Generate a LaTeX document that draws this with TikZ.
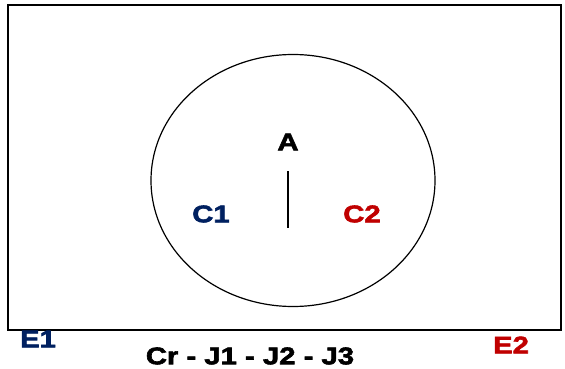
\documentclass[tikz,border=0pt]{standalone}
\usepackage{fontspec}
\setmainfont{Liberation Sans}[BoldFeatures={FakeStretch=1.22,FakeBold=2.5}]
\definecolor{navy}{HTML}{002060}
\definecolor{darkred}{HTML}{C00000}
\tikzset{
  lbl/.style={inner sep=0pt, font=\fontsize{24}{27}\selectfont\bfseries},
  frame/.style={draw=black, line width=1.5pt},
  outline/.style={draw=black, line width=1.2pt}
}
\begin{document}
\begin{tikzpicture}[x=1pt,y=-1pt]
\useasboundingbox (0,0) rectangle (565,369);
\draw[frame] (8,5) rectangle (561,330);
\draw[outline] (293,180.5) ellipse [x radius=142, y radius=126];
\coordinate (ltop) at (288,171);
\coordinate (lbot) at (288,228);
\draw[line width=1.2pt] (ltop) -- (lbot);
\node[lbl] (A) at (288,142) {A};
\node[lbl, text=navy] (C1) at (211,214) {C1};
\node[lbl, text=darkred] (C2) at (362,214) {C2};
\node[lbl, text=navy] (E1) at (38,339) {E1};
\node[lbl, text=darkred] (E2) at (511,345) {E2};
\node[lbl] (Cr) at (250,356) {Cr - J1 - J2 - J3};
\end{tikzpicture}
\end{document}
